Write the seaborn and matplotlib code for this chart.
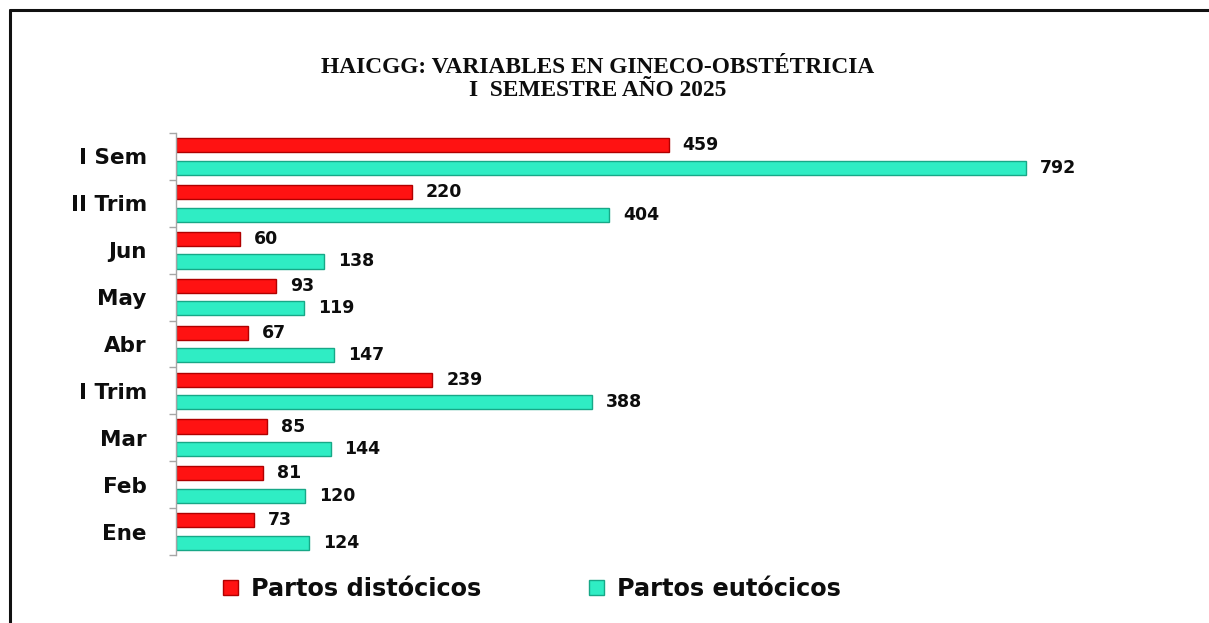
import matplotlib
matplotlib.use("Agg")
import matplotlib.pyplot as plt
import seaborn as sns
import pandas as pd
from matplotlib.lines import Line2D
from matplotlib.patches import Patch

categories = ["I Sem", "II Trim", "Jun", "May", "Abr", "I Trim", "Mar", "Feb", "Ene"]
distocicos = [459, 220, 60, 93, 67, 239, 85, 81, 73]
eutocicos = [792, 404, 138, 119, 147, 388, 144, 120, 124]
series_names = ["Partos distócicos", "Partos eutócicos"]
title_text = "HAICGG: VARIABLES EN GINECO-OBSTÉTRICIA\nI  SEMESTRE AÑO 2025"

df = pd.DataFrame({
    "Mes": categories * 2,
    "Valor": distocicos + eutocicos,
    "Serie": [series_names[0]] * len(categories) + [series_names[1]] * len(categories),
})

sns.set_theme(style="white")
plt.rcParams["font.family"] = ["DejaVu Sans"]

fig = plt.figure(figsize=(12.09, 6.23), dpi=100)
ax = fig.add_axes([176 / 1209, 1 - 555 / 623, (900 * 1.073) / 1209, (555 - 133) / 623])

colors = {"Partos distócicos": "#FF1212", "Partos eutócicos": "#2FEDC4"}
edges = ["#B00000", "#17A887"]
sns.barplot(data=df, y="Mes", x="Valor", hue="Serie", order=categories,
            hue_order=series_names, palette=colors, orient="h", saturation=1,
            width=0.96, gap=0.375, ax=ax, legend=False)

for cont, ec in zip(ax.containers, edges):
    for p in cont.patches:
        p.set_edgecolor(ec)
        p.set_linewidth(1.0)
    ax.bar_label(cont, padding=10, fontsize=12.5, fontweight="bold", color="#0D0D0D")

ax.set_xlim(0, 900)
ax.set_ylim(len(categories) - 0.5, -0.5)
ax.set_xlabel("")
ax.set_ylabel("")
ax.set_xticks([])
for s in ["top", "right", "bottom"]:
    ax.spines[s].set_visible(False)
ax.spines["left"].set_color("#A6A6A6")
ax.spines["left"].set_linewidth(1.0)

ax.set_yticks(range(len(categories)))
ax.set_yticklabels(categories, fontsize=15.5, fontweight="bold", color="#0D0D0D")
ax.set_yticks([i - 0.5 for i in range(len(categories) + 1)], minor=True)
ax.tick_params(axis="y", which="major", length=0, pad=21)
ax.tick_params(axis="y", which="minor", length=5, width=1.0, color="#A6A6A6", left=True)

fig.text(598 / 1209, 1 - 79 / 623, title_text, ha="center", va="center",
         fontsize=16.8, fontweight="bold", family=["Liberation Serif"],
         linespacing=1.08, color="#0D0D0D")

handles = [Patch(facecolor=colors[n], edgecolor=e, linewidth=1.0) for n, e in zip(series_names, edges)]
fig.legend(handles, series_names, loc="center", bbox_to_anchor=(532 / 1209, 1 - 589 / 623),
           ncol=2, frameon=False, prop={"size": 17.3, "weight": "bold"},
           labelcolor="#0D0D0D",
           handlelength=0.6, handleheight=0.6, handletextpad=0.55, columnspacing=4.5)

fig.add_artist(Line2D([10 / 1209, 10 / 1209], [0, 1 - 10 / 623], transform=fig.transFigure,
                      color="#111111", linewidth=2.2))
fig.add_artist(Line2D([10 / 1209, 1], [1 - 10 / 623, 1 - 10 / 623], transform=fig.transFigure,
                      color="#111111", linewidth=2.2))

fig.savefig("out.png", dpi=100, facecolor="white")
